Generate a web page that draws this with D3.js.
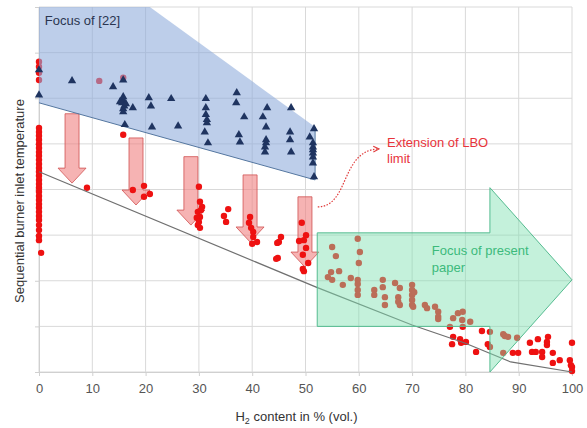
<!DOCTYPE html>
<html>
<head>
<meta charset="utf-8">
<script src="https://cdn.jsdelivr.net/npm/d3@7"></script>
<style>
  body { margin: 0; background: #fff; }
  svg { display: block; font-family: "Liberation Sans", Arial, sans-serif; }
</style>
</head>
<body>
<svg id="chart" width="587" height="428"></svg>
<script>
// x ticks (H2 content, vol. %)
var xTicks = [0, 10, 20, 30, 40, 50, 60, 70, 80, 90, 100];
// y has no labels, just grid steps
var yTicks = [0, 1, 2, 3, 4, 5, 6, 7, 8];

// red dots: measured LBO points [x, y]
var redPts = [
  [0,6.80],[0,6.69],[0,6.56],[0,6.40],
  [0,5.35],[0,5.26],[0,5.18],[0,5.09],[0,5.00],[0,4.91],[0,4.82],[0,4.74],[0,4.65],[0,4.56],
  [0,4.47],[0,4.39],[0,4.30],[0,4.21],[0,4.12],[0,4.04],[0,3.95],[0,3.86],[0,3.77],[0,3.68],
  [0,3.60],[0,3.51],[0,3.42],[0,3.33],[0,3.22],[0,3.11],[0,2.98],[0,2.89],[0.4,2.61],
  [11.3,6.38],[15.8,6.45],[15.8,5.20],[9.0,4.04],
  [17.6,3.99],[19.7,4.08],[19.7,3.84],[20.8,3.90],
  [30.0,4.06],[30.2,3.73],[30.6,3.62],[29.8,3.51],[30.2,3.40],[29.6,3.38],[29.8,3.22],[30.2,3.16],[30.4,3.55],[30.0,3.29],
  [35.5,3.57],[34.7,3.42],[35.1,3.29],
  [39.6,3.40],[39.4,3.27],[39.8,3.16],[40.2,3.07],[40.2,2.96],[40.9,2.85],[40.0,2.81],
  [45.4,2.96],[45.0,2.85],[44.7,2.83],[44.8,2.50],[44.5,2.48],
  [49.3,3.27],[50.1,3.00],[49.7,2.89],[48.8,2.87],[50.1,2.72],[49.5,2.57],[50.5,2.39],[49.5,2.26],[49.7,2.21],
  [55.0,2.74],[55.7,2.54],[59.8,2.92],[60.2,2.63],[60.0,2.39],[54.8,2.19],[54.2,2.08],[55.0,2.02],
  [56.3,2.21],[57.0,1.91],[58.5,2.06],[59.8,2.02],[59.8,1.93],[59.8,1.80],[59.8,1.69],[62.9,1.80],[62.9,1.69],
  [64.5,2.02],[64.5,1.86],[64.9,1.64],[64.9,1.47],[66.8,1.95],[67.4,1.64],[67.4,1.54],[67.7,1.47],[67.7,1.84],
  [70.0,1.91],[70.0,1.80],[70.0,1.69],[70.0,1.58],[70.0,1.47],[70.2,1.43],[70.4,1.75],
  [72.4,1.47],[72.8,1.40],[74.3,1.43],[74.9,1.32],[74.9,1.21],[74.9,1.16],
  [77.7,1.18],[78.6,1.29],[79.5,1.32],[79.4,1.14],[80.9,1.10],
  [77.1,0.99],[79.5,0.99],[77.7,0.77],[77.5,0.61],[79.0,0.72],[79.2,0.64],[80.1,0.66],
  [82.0,0.44],[83.1,0.90],[84.6,0.88],[84.2,0.61],[84.6,0.55],
  [87.1,0.83],[87.4,0.79],[88.0,0.77],[87.1,0.42],[89.7,0.75],[88.9,0.42],[89.9,0.42],
  [92.1,0.64],[92.5,0.44],[93.2,0.44],[93.6,0.72],[95.3,0.59],[95.3,0.66],[95.5,0.77],[94.4,0.44],[94.4,0.33],
  [96.4,0.42],[96.4,0.20],[97.7,0.26],[99.6,0.26],[99.8,0.15],[100,0.64],[100,0.11],[100,0.02]
];

// navy triangles: data of [22]
var triPts = [
  [0,6.62],[0,6.07],[6.2,6.38],[13.9,6.25],[15.8,6.40],
  [15.8,6.03],[15.8,5.96],[15.6,5.90],[16.0,5.83],[15.8,5.77],[15.8,5.70],[15.2,5.92],[16.3,5.88],
  [17.6,5.79],[16.1,5.42],[20.6,6.01],[21.0,5.83],[24.8,5.99],[21.2,5.37],[26.1,5.39],
  [31.3,5.99],[31.3,5.79],[31.3,5.64],[31.5,5.53],[31.5,5.46],[31.1,5.26],[31.7,5.02],
  [37.1,6.12],[37.0,5.90],[37.5,5.20],[37.7,5.04],[38.5,5.59],
  [42.8,5.79],[42.0,5.59],[42.6,5.37],[42.6,5.09],[42.6,5.02],[42.4,4.93],[42.4,4.82],
  [47.3,5.79],[47.1,5.26],[47.1,5.09],[47.3,4.82],
  [51.6,5.33],[50.8,5.15],[51.4,5.02],[51.4,4.93],[51.4,4.87],[51.4,4.80],[51.4,4.71],[51.4,4.58],[51.6,4.28]
];

// grey LBO limit line
var limitLine = [[0,4.39],[52,1.86],[70,1.03],[80,0.63],[88.5,0.22],[100,0]];

// blue area "Focus of [22]"
var bluePoly = [[0,8],[20.8,8],[51.8,5.37],[51.8,4.21],[0,5.9]];

// red down arrows: [x, top, tip]
var downArrows = [[6.2,5.66,4.14],[18.2,5.13,3.66],[28.5,4.72,3.22],[39.6,4.32,2.85],[49.9,3.84,2.30]];

// green arrow: body from x0 to neck, body y range, head y range, tip x
var greenX = [52.2, 84.6, 100];
var greenBody = [1.0, 3.05];
var greenHead = [0, 4.04];

// dotted curve (start, ctrl1, ctrl2, end)
var curvePts = [[52.3,3.62],[58.3,3.62],[56.5,4.87],[63.8,4.89]];

var margin = {top: 7, right: 15, bottom: 56, left: 39};
var W = 587, H = 428;
var width = W - margin.left - margin.right;
var height = H - margin.top - margin.bottom;

var svg = d3.select('#chart');
var defs = svg.append('defs');
defs.append('marker')
  .attr('id', 'ah').attr('viewBox', '0 0 10 10')
  .attr('refX', 9).attr('refY', 5)
  .attr('markerWidth', 6).attr('markerHeight', 6)
  .attr('orient', 'auto')
  .append('path').attr('d', 'M1,1 L9,5 L1,9').attr('fill', 'none')
  .attr('stroke', '#e03a3a').attr('stroke-width', 1.5);

var g = svg.append('g').attr('transform', 'translate(' + margin.left + ',' + margin.top + ')');

var x = d3.scaleLinear().domain([0, 100]).range([0, width]);
var y = d3.scaleLinear().domain([0, 8]).range([height, 0]);

// grid
g.append('g').selectAll('line').data(yTicks).join('line')
  .attr('x1', 0).attr('x2', width)
  .attr('y1', function(d) { return y(d); }).attr('y2', function(d) { return y(d); })
  .attr('stroke', '#d9d9d9').attr('stroke-width', 1);
g.append('g').selectAll('line').data(xTicks).join('line')
  .attr('y1', 0).attr('y2', height)
  .attr('x1', function(d) { return x(d); }).attr('x2', function(d) { return x(d); })
  .attr('stroke', '#d9d9d9').attr('stroke-width', 1);

// axes
var xAxis = g.append('g').attr('transform', 'translate(0,' + height + ')')
  .call(d3.axisBottom(x).tickValues(xTicks).tickSize(4).tickPadding(8));
var yAxis = g.append('g')
  .call(d3.axisLeft(y).tickValues(yTicks).tickSize(4).tickFormat(''));
[xAxis, yAxis].forEach(function(a) {
  a.select('.domain').attr('stroke', '#d0d0d0');
  a.selectAll('.tick line').attr('stroke', '#d0d0d0');
});
xAxis.selectAll('text').attr('fill', '#555').style('font-size', '13px');

// red arrows
var arrowPath = function(d) {
  var cx = x(d[0]), t = y(d[1]), tip = y(d[2]);
  var neck = tip - 15;
  return 'M' + (cx - 7) + ',' + t + 'L' + (cx + 7) + ',' + t + 'L' + (cx + 7) + ',' + neck +
    'L' + (cx + 14) + ',' + neck + 'L' + cx + ',' + tip + 'L' + (cx - 14) + ',' + neck +
    'L' + (cx - 7) + ',' + neck + 'Z';
};
g.append('g').selectAll('path').data(downArrows).join('path')
  .attr('d', arrowPath)
  .attr('fill', '#f08080').attr('fill-opacity', 0.6)
  .attr('stroke', '#d05050').attr('stroke-width', 0.8);

// red dots
g.append('g').selectAll('circle').data(redPts).join('circle')
  .attr('cx', function(d) { return x(d[0]); })
  .attr('cy', function(d) { return y(d[1]); })
  .attr('r', 3.2).attr('fill', '#ee1111');

// limit line
var line = d3.line().x(function(d) { return x(d[0]); }).y(function(d) { return y(d[1]); });
g.append('path').datum(limitLine).attr('d', line)
  .attr('fill', 'none').attr('stroke', '#707070').attr('stroke-width', 1.2);

// blue area
g.append('path').datum(bluePoly).attr('d', line.curve(d3.curveLinearClosed))
  .attr('fill', '#8eaadb').attr('fill-opacity', 0.58);
line.curve(d3.curveLinear);
g.append('path').datum([bluePoly[2], bluePoly[3], bluePoly[4]]).attr('d', line)
  .attr('fill', 'none').attr('stroke', '#5577a0').attr('stroke-width', 1);

// triangles
g.append('g').selectAll('path').data(triPts).join('path')
  .attr('transform', function(d) { return 'translate(' + x(d[0]) + ',' + y(d[1]) + ')'; })
  .attr('d', d3.symbol().type(d3.symbolTriangle).size(30))
  .attr('fill', '#1f3460');

// green arrow
var gx0 = x(greenX[0]), gx1 = x(greenX[1]), gx2 = x(greenX[2]);
var gb0 = y(greenBody[0]), gb1 = y(greenBody[1]);
var gh0 = y(greenHead[0]), gh1 = y(greenHead[1]);
var gmid = (gh0 + gh1) / 2;
g.append('path')
  .attr('d', 'M' + gx0 + ',' + gb1 + 'L' + gx1 + ',' + gb1 + 'L' + gx1 + ',' + gh1 + 'L' + gx2 + ',' + gmid +
    'L' + gx1 + ',' + gh0 + 'L' + gx1 + ',' + gb0 + 'L' + gx0 + ',' + gb0 + 'Z')
  .attr('fill', '#7ddfb0').attr('fill-opacity', 0.45)
  .attr('stroke', '#55bb90').attr('stroke-width', 1);

// dotted curve
var c = curvePts.map(function(p) { return [x(p[0]), y(p[1])]; });
g.append('path')
  .attr('d', 'M' + c[0] + 'C' + c[1] + ' ' + c[2] + ' ' + c[3])
  .attr('fill', 'none').attr('stroke', '#e03a3a').attr('stroke-width', 1.2)
  .attr('stroke-dasharray', '1.5,1.5').attr('marker-end', 'url(#ah)');

// labels
g.append('text').attr('x', x(1.1)).attr('y', y(7.6)).text('Focus of [22]')
  .attr('fill', '#2a3550').style('font-size', '13px');
var ext = g.append('text').attr('fill', '#e8333a').style('font-size', '13px');
ext.append('tspan').attr('x', x(65.3)).attr('y', y(4.94)).text('Extension of LBO');
ext.append('tspan').attr('x', x(65.3)).attr('y', y(4.59)).text('limit');
var foc = g.append('text').attr('fill', '#3cba7c').style('font-size', '13px');
foc.append('tspan').attr('x', x(73.7)).attr('y', y(2.57)).text('Focus of present');
foc.append('tspan').attr('x', x(73.7)).attr('y', y(2.2)).text('paper');

// axis titles
var xt = svg.append('text').attr('x', margin.left + x(48.3)).attr('y', 421)
  .attr('text-anchor', 'middle').attr('fill', '#333').style('font-size', '13px');
xt.append('tspan').text('H');
xt.append('tspan').text('2').style('font-size', '9px').attr('dy', 3);
xt.append('tspan').text(' content in % (vol.)').attr('dy', -3);

svg.append('text')
  .attr('transform', 'translate(24,201) rotate(-90)')
  .attr('text-anchor', 'middle').attr('fill', '#333').style('font-size', '13px')
  .text('Sequential burner inlet temperature');
</script>
</body>
</html>
